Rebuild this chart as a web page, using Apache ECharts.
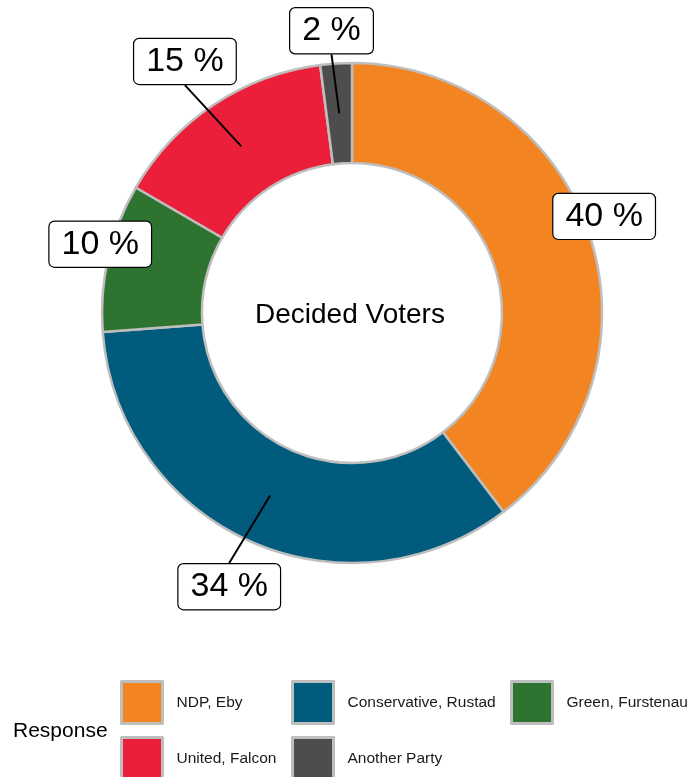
<!DOCTYPE html>
<html><head><meta charset="utf-8">
<script src="https://cdn.jsdelivr.net/npm/echarts@6/dist/echarts.min.js"></script>
<style>html,body{margin:0;padding:0;background:#fff}#c{width:692px;height:777px}</style>
</head><body><div id="c"></div>
<script>
// ---- data ----
const categories = ['NDP, Eby', 'Conservative, Rustad', 'Green, Furstenau', 'United, Falcon', 'Another Party'];
const shares = [39.63, 34.15, 9.58, 14.60, 2.03];
const colors = ['#F28522', '#015B7D', '#2E7430', '#EC1F3B', '#4D4D4D'];
const centerTitle = 'Decided Voters';
const legendTitle = 'Response';
// label placement (repel-like offsets from each slice's mid angle)
const labelRadius = [270, 300, 261, 302, 283];
const labelAngleShift = [-2.3, 0, 2.4, 0, -0.5];
const showLine = [false, true, false, true, true];
// legend columns
const legendCols = [['NDP, Eby', 'United, Falcon'], ['Conservative, Rustad', 'Another Party'], ['Green, Furstenau']];

const CX = 352, CY = 313;
const total = shares.reduce((a, b) => a + b, 0);
const midAngles = [];
let acc = 0;
shares.forEach(v => { midAngles.push((acc + v / 2) / total * 360); acc += v; });

const FONT = '"Liberation Sans", Arial, Helvetica, sans-serif';
const chart = echarts.init(document.getElementById('c'), null, {renderer: 'canvas'});

const mainData = categories.map((n, i) => ({name: n, value: shares[i], itemStyle: {color: colors[i]}}));
const labelData = categories.map((n, i) => ({name: n, value: shares[i], labelLine: {show: showLine[i]}}));

const legendLefts = [120, 291, 510];
const legends = legendCols.map((col, k) => ({
  orient: 'vertical', left: legendLefts[k], top: 680, height: 200, padding: 0,
  itemWidth: 41, itemHeight: 42, itemGap: 11, icon: 'rect',
  data: col,
  itemStyle: {borderColor: '#BEBEBE', borderWidth: 3},
  textStyle: {fontFamily: FONT, fontSize: 15.5, color: '#1a1a1a', padding: [0, 0, 0, 9]}
}));

chart.setOption({
  animation: false,
  backgroundColor: '#fff',
  color: colors,
  title: {
    text: legendTitle, left: 13, top: 721, padding: 0,
    textStyle: {fontFamily: FONT, fontSize: 21, fontWeight: 'normal', color: '#000'}
  },
  legend: legends,
  graphic: [{
    type: 'text', left: CX - 97, top: CY - 12, silent: true,
    style: {text: centerTitle, fontFamily: FONT, fontSize: 28, fill: '#000'}
  }],
  series: [{
    type: 'pie', center: [CX, CY], radius: [150, 250], startAngle: 90, clockwise: true,
    avoidLabelOverlap: false, silent: true,
    itemStyle: {borderColor: '#BEBEBE', borderWidth: 2.5},
    label: {show: false}, labelLine: {show: false},
    emphasis: {disabled: true},
    data: mainData
  }, {
    type: 'pie', center: [CX, CY], radius: [150, 200], startAngle: 90, clockwise: true,
    avoidLabelOverlap: false, silent: true, z: 5,
    itemStyle: {color: 'rgba(0,0,0,0)', borderWidth: 0},
    emphasis: {disabled: true},
    label: {
      show: true, position: 'outside',
      formatter: p => Math.round(p.percent) + ' %',
      fontFamily: FONT, fontSize: 34, color: '#000', lineHeight: 36,
      backgroundColor: '#fff', borderColor: '#000', borderWidth: 1.2, borderRadius: 5,
      padding: [5, 12, 4, 12]
    },
    labelLine: {show: true, length: 20, length2: 0, minTurnAngle: 0, lineStyle: {color: '#000', width: 2}},
    labelLayout: function (p) {
      const i = p.dataIndex;
      const a = (midAngles[i] + labelAngleShift[i]) * Math.PI / 180;
      return {
        x: CX + labelRadius[i] * Math.sin(a),
        y: CY - labelRadius[i] * Math.cos(a),
        align: 'center', verticalAlign: 'middle'
      };
    },
    data: labelData
  }]
});
</script></body></html>
